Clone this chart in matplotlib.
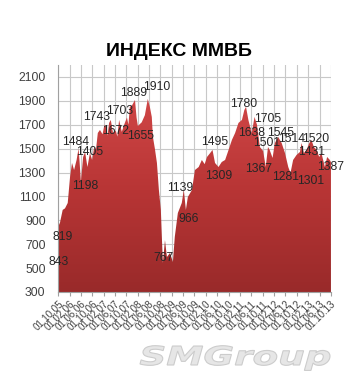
import numpy as np
import pandas as pd
import matplotlib
matplotlib.use('Agg')
import matplotlib.pyplot as plt
import matplotlib.dates as mdates
from matplotlib.textpath import TextPath
from matplotlib.patches import PathPatch
from matplotlib.font_manager import FontProperties
from matplotlib.transforms import Affine2D

# ----------------- данные -----------------
dates = ['2005-10-01', '2005-10-22', '2005-11-20', '2005-12-15', '2006-01-13',
         '2006-02-07', '2006-02-28', '2006-03-22', '2006-04-18', '2006-05-09',
         '2006-05-20', '2006-06-03', '2006-06-27', '2006-07-18', '2006-08-12',
         '2006-09-08', '2006-10-01', '2006-10-24', '2006-11-10', '2006-12-01',
         '2006-12-24', '2007-01-21', '2007-02-10', '2007-02-27', '2007-03-15',
         '2007-04-01', '2007-04-19', '2007-05-13', '2007-06-12', '2007-06-28',
         '2007-07-17', '2007-08-15', '2007-09-09', '2007-10-09', '2007-10-25',
         '2007-11-09', '2007-12-01', '2008-01-03', '2008-01-20', '2008-02-03',
         '2008-03-15', '2008-04-18', '2008-05-19', '2008-06-10', '2008-07-01',
         '2008-07-13', '2008-08-03', '2008-08-25', '2008-09-15', '2008-10-06',
         '2008-10-18', '2008-10-28', '2008-11-19', '2008-12-10', '2009-01-12',
         '2009-02-12', '2009-03-04', '2009-04-06', '2009-05-18', '2009-06-09',
         '2009-07-01', '2009-07-22', '2009-09-04', '2009-10-06', '2009-11-15',
         '2009-12-19', '2010-01-18', '2010-02-12', '2010-03-18', '2010-04-12',
         '2010-05-09', '2010-06-15', '2010-07-20', '2010-08-25', '2010-10-01',
         '2010-11-06', '2010-12-10', '2011-01-15', '2011-02-21', '2011-03-19',
         '2011-04-06', '2011-05-01', '2011-06-06', '2011-07-06', '2011-08-01',
         '2011-09-01', '2011-10-06', '2011-11-03', '2011-11-27', '2011-12-15',
         '2012-01-15', '2012-02-09', '2012-03-15', '2012-04-21', '2012-05-27',
         '2012-07-01', '2012-07-25', '2012-08-22', '2012-09-28', '2012-11-03',
         '2012-11-21', '2012-12-15', '2013-01-12', '2013-02-12', '2013-03-06',
         '2013-04-01', '2013-05-01', '2013-05-28', '2013-06-21', '2013-07-28',
         '2013-08-21', '2013-09-19', '2013-10-01']
values = [843, 880, 987, 1000, 1045,
          1263, 1380, 1321, 1405, 1500,
          1390, 1220, 1430, 1470, 1346,
          1463, 1405, 1514, 1480, 1631,
          1656, 1620, 1700, 1681, 1610,
          1715, 1740, 1631, 1650, 1600,
          1740, 1640, 1700, 1760, 1700,
          1850, 1860, 1907, 1760, 1690,
          1720, 1780, 1916, 1850, 1765,
          1598, 1500, 1380, 1154, 987,
          735, 543, 735, 593, 627,
          551, 760, 961, 1045, 1154,
          987, 1095, 1154, 1321, 1346,
          1405, 1370, 1430, 1463, 1489,
          1380, 1346, 1388, 1405, 1489,
          1573, 1631, 1715, 1740, 1824,
          1849, 1740, 1631, 1765, 1700,
          1514, 1480, 1346, 1514, 1489,
          1422, 1547, 1598, 1547, 1463,
          1346, 1296, 1405, 1447, 1472,
          1547, 1463, 1489, 1547, 1573,
          1514, 1489, 1430, 1463, 1346,
          1430, 1405, 1387]

# подписи значений и их места
label_text = ['843', '819', '1198', '1484', '1405', '1743', '1672', '1703',
              '1889', '1910', '1655', '767', '1139', '966', '1495', '1309',
              '1780', '1638', '1545', '1705', '1501', '1367', '1514', '1520',
              '1281', '1431', '1301', '1387']
label_dates = ['2005-10-11', '2005-11-23', '2006-07-15', '2006-04-10', '2006-09-08',
               '2006-11-22', '2007-06-12', '2007-07-25', '2007-12-22', '2008-08-25',
               '2008-03-06', '2008-11-09', '2009-04-28', '2009-08-03', '2010-05-06',
               '2010-06-19', '2011-03-12', '2011-06-06', '2012-04-12', '2011-11-25',
               '2011-11-15', '2011-08-21', '2012-08-09', '2013-04-22', '2012-06-06',
               '2013-03-10', '2013-03-01', '2013-10-01']
label_vals = [551, 760, 1187, 1556, 1472, 1765, 1648, 1815, 1966, 2016,
              1606, 585, 1171, 911, 1556, 1271, 1874, 1631, 1631, 1748,
              1547, 1330, 1581, 1581, 1263, 1472, 1229, 1347]

y_ticks = [300, 500, 700, 900, 1100, 1300, 1500, 1700, 1900, 2100]

x = pd.to_datetime(dates)
xn = mdates.date2num(x)

fig = plt.figure(figsize=(3.48, 3.80), dpi=100)
ax = fig.add_axes([0.1667, 0.2316, 0.7843, 0.5974])

x0 = mdates.date2num(pd.Timestamp('2005-10-01'))
x1 = mdates.date2num(pd.Timestamp('2013-10-01'))
ax.set_xlim(x0, x1)
ax.set_ylim(300, 2200)

# заливка с градиентом
poly = ax.fill_between(xn, 300, values, color='none', lw=0)
grad = np.linspace(0, 1, 256).reshape(-1, 1)
cmap = matplotlib.colors.LinearSegmentedColormap.from_list(
    'redgrad', ['#992a2a', '#b83535', '#d24848'])
img = ax.imshow(grad, cmap=cmap, aspect='auto', origin='lower',
                extent=[x0, x1, 300, 2000], zorder=2)
img.set_clip_path(poly.get_paths()[0], transform=ax.transData)

# сетка
ax.set_yticks(y_ticks)
ticks = pd.date_range('2005-10-01', '2013-10-01', freq='4MS')
ax.set_xticks(mdates.date2num(ticks))
ax.xaxis.set_major_formatter(mdates.DateFormatter('%d.%m.%y'))
ax.grid(True, color='#c8c8c8', lw=0.8, zorder=1)
ax.set_axisbelow(True)
for s in ['top', 'right']:
    ax.spines[s].set_visible(False)
ax.spines['left'].set_color('#a0a0a0')
ax.spines['bottom'].set_color('#a0a0a0')
ax.tick_params(axis='y', length=0, labelsize=8.8, labelcolor='#404040', pad=9)
ax.tick_params(axis='x', length=3, color='#a0a0a0', labelsize=7,
               labelcolor='#404040', pad=2)
for lab in ax.get_yticklabels():
    lab.set_fontfamily('Liberation Sans')
for lab in ax.get_xticklabels():
    lab.set_rotation(45)
    lab.set_ha('right')
    lab.set_rotation_mode('anchor')
    lab.set_fontfamily('Liberation Sans')

# подписи
for t, d, v in zip(label_text, label_dates, label_vals):
    ax.text(mdates.date2num(pd.Timestamp(d)), v, t, ha='center', va='center',
            fontsize=8.7, family='Liberation Sans', color='#262626', zorder=5,
            clip_on=False)

fig.text(0.515, 1 - 52 / 380, 'ИНДЕКС ММВБ', ha='center', va='center',
         fontsize=14, fontweight='bold', family='Liberation Sans', color='black')

# водяной знак, растянутый по горизонтали
fp = FontProperties(family='DejaVu Sans', weight='bold', style='italic')
tp = TextPath((0, 0), 'SMGroup', size=20, prop=fp)
bb = tp.get_extents()
sx = 190 / bb.width
sy = 19 / 14.6
tr = Affine2D().translate(-bb.x0, 0).scale(sx, sy).translate(140, 380 - 365)
wm = PathPatch(tp, transform=tr, facecolor='#e6e6e6', edgecolor='#cccccc', lw=0.8)
fig.patches.append(wm)

fig.savefig('out.png', dpi=100)
